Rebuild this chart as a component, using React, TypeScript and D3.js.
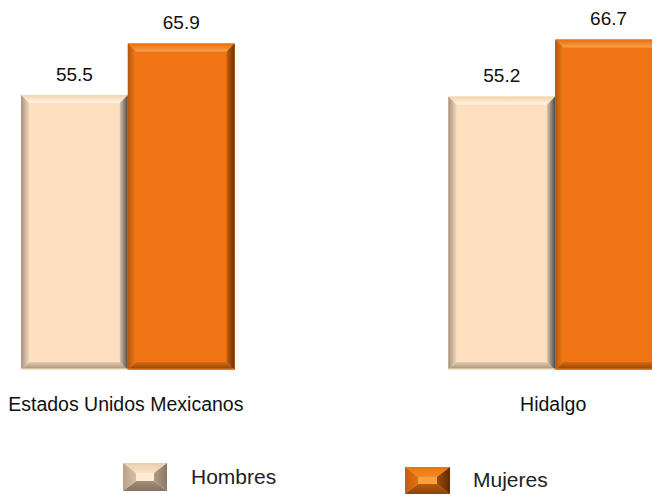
import React from "react";
import * as d3 from "d3";

const categories = ["Estados Unidos Mexicanos", "Hidalgo"];
const seriesNames = ["Hombres", "Mujeres"];
const hombres = [55.5, 55.2];
const mujeres = [65.9, 66.7];

const W = 652;
const H = 494;

type Pal = {
  face: string;
  top: [string, string];
  left: [string, string];
  right: [string, string];
  bottom: [string, string];
  edge: string;
};

const palettes: Record<string, Pal> = {
  Hombres: {
    face: "#FDDFBF",
    top: ["#F3D2AE", "#FFF4E4"],
    left: ["#A69280", "#F2D6B6"],
    right: ["#4E4B48", "#D9C1A5"],
    bottom: ["#9C8A78", "#E6CBAB"],
    edge: "#FDE6CC",
  },
  Mujeres: {
    face: "#F07414",
    top: ["#E46E10", "#FAA24A"],
    left: ["#B4560C", "#F07A18"],
    right: ["#6A3004", "#C65E0C"],
    bottom: ["#8A4208", "#D8680F"],
    edge: "#F07A1A",
  },
};

const legendPalettes: Record<string, Pal> = {
  Hombres: {
    face: "#FFEBD3",
    top: ["#E9CCAE", "#FBE3C6"],
    left: ["#B9A08A", "#D8BFA2"],
    right: ["#8C7868", "#B09A84"],
    bottom: ["#857264", "#A38E7A"],
    edge: "#FFEBD3",
  },
  Mujeres: {
    face: "#F9A040",
    top: ["#E8740E", "#F58A24"],
    left: ["#C45C0C", "#E37012"],
    right: ["#5E2A04", "#A04A0A"],
    bottom: ["#8C4408", "#B85A0C"],
    edge: "#F9A040",
  },
};

function Grad({ id, c, dir }: { id: string; c: [string, string]; dir: string }) {
  // c[0] = outer, c[1] = inner
  let coords = { x1: "0", y1: "0", x2: "0", y2: "1" };
  if (dir === "top") coords = { x1: "0", y1: "0", x2: "0", y2: "1" };
  if (dir === "bottom") coords = { x1: "0", y1: "1", x2: "0", y2: "0" };
  if (dir === "left") coords = { x1: "0", y1: "0", x2: "1", y2: "0" };
  if (dir === "right") coords = { x1: "1", y1: "0", x2: "0", y2: "0" };
  return (
    <linearGradient id={id} {...coords}>
      <stop offset="0" stopColor={c[0]} />
      <stop offset="1" stopColor={c[1]} />
    </linearGradient>
  );
}

function PalDefs({ prefix, pal }: { prefix: string; pal: Pal }) {
  return (
    <>
      <Grad id={`${prefix}-top`} c={pal.top} dir="top" />
      <Grad id={`${prefix}-bottom`} c={pal.bottom} dir="bottom" />
      <Grad id={`${prefix}-left`} c={pal.left} dir="left" />
      <Grad id={`${prefix}-right`} c={pal.right} dir="right" />
    </>
  );
}

function Bevel({
  x, y, w, h, bx, by, prefix, pal,
}: { x: number; y: number; w: number; h: number; bx: number; by: number; prefix: string; pal: Pal }) {
  const x2 = x + w;
  const y2 = y + h;
  const pts = (a: number[][]) => a.map((p) => p.join(",")).join(" ");
  return (
    <g>
      <rect x={x} y={y} width={w} height={h} fill={pal.face} />
      <polygon points={pts([[x, y], [x2, y], [x2 - bx, y + by], [x + bx, y + by]])} fill={`url(#${prefix}-top)`} />
      <polygon points={pts([[x, y2], [x2, y2], [x2 - bx, y2 - by], [x + bx, y2 - by]])} fill={`url(#${prefix}-bottom)`} />
      <polygon points={pts([[x, y], [x + bx, y + by], [x + bx, y2 - by], [x, y2]])} fill={`url(#${prefix}-left)`} />
      <polygon points={pts([[x2, y], [x2 - bx, y + by], [x2 - bx, y2 - by], [x2, y2]])} fill={`url(#${prefix}-right)`} />
    </g>
  );
}

export default function App() {
  const x0 = d3.scaleBand<string>().domain(categories).range([21, 662]).paddingInner(0.5).paddingOuter(0);
  const x1 = d3.scaleBand<string>().domain(seriesNames).range([0, x0.bandwidth()]).padding(0);
  const y = d3.scaleLinear().domain([0, 70]).range([370, 23.2]);

  const valuesBySeries: Record<string, number[]> = { Hombres: hombres, Mujeres: mujeres };
  const font = "'Liberation Sans', Arial, sans-serif";

  const legendItems = [
    { name: "Hombres", sx: 123, sy: 463, sw: 44, sh: 28, tx: 191, ty: 484 },
    { name: "Mujeres", sx: 405, sy: 467, sw: 45, sh: 27, tx: 473, ty: 487 },
  ];

  return (
    <svg width={W} height={H} style={{ position: "absolute", left: 0, top: 0, background: "#fff" }}>
      <defs>
        {seriesNames.map((s) => (
          <PalDefs key={s} prefix={`bar-${s}`} pal={palettes[s]} />
        ))}
        {seriesNames.map((s) => (
          <PalDefs key={"l" + s} prefix={`leg-${s}`} pal={legendPalettes[s]} />
        ))}
      </defs>
      {categories.map((cat, ci) => (
        <g key={cat}>
          {seriesNames.map((s) => {
            const v = valuesBySeries[s][ci];
            const bx = (x0(cat) ?? 0) + (x1(s) ?? 0);
            const bw = x1.bandwidth();
            const top = y(v);
            const h = y(0) - top;
            return (
              <g key={s}>
                <Bevel x={bx} y={top} w={bw} h={h} bx={8} by={8} prefix={`bar-${s}`} pal={palettes[s]} />
                <rect x={bx} y={y(0) - 1.5} width={bw} height={1.5} fill={palettes[s].edge} />
                <text
                  x={bx + bw / 2}
                  y={top - 14.5}
                  textAnchor="middle"
                  fontFamily={font}
                  fontSize={19}
                  fill="#111"
                >
                  {v.toFixed(1)}
                </text>
              </g>
            );
          })}
          <text
            x={(x0(cat) ?? 0) + x0.bandwidth() / 2 - 2}
            y={410.5}
            textAnchor="middle"
            fontFamily={font}
            fontSize={19.5}
            fill="#111"
          >
            {cat}
          </text>
        </g>
      ))}
      {legendItems.map((l) => (
        <g key={l.name}>
          <Bevel x={l.sx} y={l.sy} w={l.sw} h={l.sh} bx={13} by={10} prefix={`leg-${l.name}`} pal={legendPalettes[l.name]} />
          <text x={l.tx} y={l.ty} fontFamily={font} fontSize={21} fill="#222">
            {l.name}
          </text>
        </g>
      ))}
    </svg>
  );
}
